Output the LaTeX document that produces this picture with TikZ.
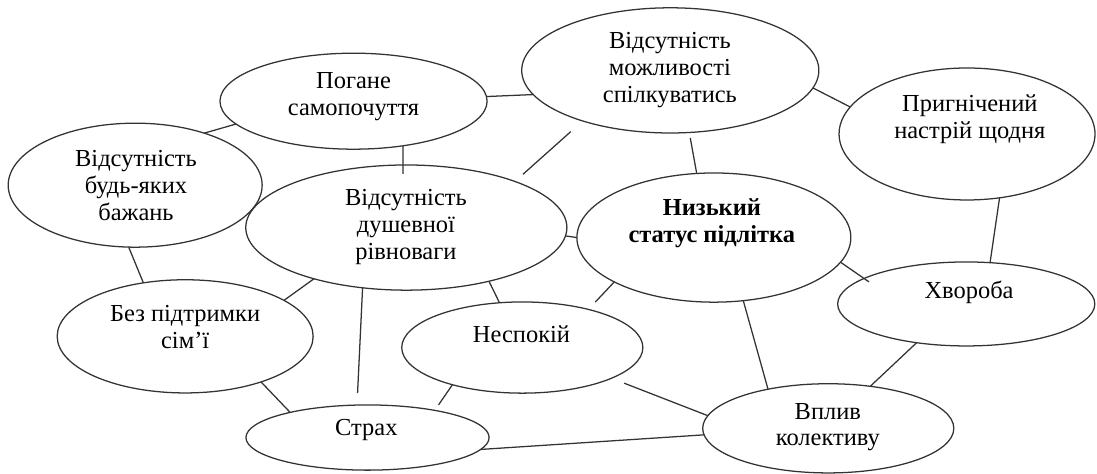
\documentclass[tikz,border=0pt]{standalone}
\usepackage{fontspec}
\setmainfont{Liberation Serif}
\usetikzlibrary{shapes.geometric}

\begin{document}
\begin{tikzpicture}[
  font=\fontsize{17.4}{19.2}\selectfont,
  every node/.style={inner sep=0pt, outer sep=0pt},
  oval/.style={ellipse, draw=LineGray, line width=0.9pt},
  txt/.style={align=center, text=black},
  link/.style={draw=LineGray, line width=0.9pt},
]

% ── colors ──
\definecolor{LineGray}{HTML}{333333}

\useasboundingbox (0.00,0.00) rectangle (27.43,-11.85);

% ── ellipses ──
\node[oval, minimum width=6.68cm, minimum height=2.40cm] (pohane) at (8.84,-2.53) {};
\node[oval, minimum width=6.35cm, minimum height=3.10cm] (bazhan) at (3.38,-4.63) {};
\node[oval, minimum width=8.03cm, minimum height=3.13cm] (rivnovaha) at (10.16,-5.69) {};
\node[oval, minimum width=7.43cm, minimum height=3.13cm] (spilk) at (16.76,-1.76) {};
\node[oval, minimum width=6.40cm, minimum height=3.30cm] (nastrij) at (24.18,-3.35) {};
\node[oval, minimum width=6.85cm, minimum height=3.23cm] (status) at (17.85,-5.94) {};
\node[oval, minimum width=6.43cm, minimum height=2.10cm] (khvoroba) at (24.16,-7.60) {};
\node[oval, minimum width=6.40cm, minimum height=2.83cm] (simja) at (4.63,-8.41) {};
\node[oval, minimum width=6.03cm, minimum height=2.28cm] (nespokij) at (13.06,-8.69) {};
\node[oval, minimum width=6.08cm, minimum height=1.63cm] (strakh) at (9.19,-10.94) {};
\node[oval, minimum width=6.28cm, minimum height=2.23cm] (vplyv) at (20.71,-10.71) {};

% ── texts ──
\node[txt] (pohane-t) at (8.84,-2.41) {Погане\\самопочуття};
\node[txt] (bazhan-t) at (3.40,-4.63) {Відсутність\\будь-яких\\бажань};
\node[txt] (rivnovaha-t) at (10.15,-5.68) {Відсутність\\душевної\\рівноваги};
\node[txt] (spilk-t) at (16.75,-1.76) {Відсутність\\можливості\\спілкуватись};
\node[txt] (nastrij-t) at (24.25,-2.98) {Пригнічений\\настрій щодня};
\node[txt, font=\fontsize{17.4}{19.2}\selectfont\bfseries] (status-t) at (17.80,-5.59) {Низький\\статус підлітка};
\node[txt] (khvoroba-t) at (24.23,-7.30) {Хвороба};
\node[txt] (simja-t) at (4.63,-8.18) {Без підтримки\\сім’ї};
\node[txt] (nespokij-t) at (13.04,-8.35) {Неспокій};
\node[txt] (strakh-t) at (9.16,-10.75) {Страх};
\node[txt] (vplyv-t) at (20.70,-10.68) {Вплив\\колективу};

% ── links ──
\draw[link] (pohane.2) -- (spilk.190);
\draw[link] (pohane.191) -- (bazhan.37);
\draw[link, shorten >=-0.22cm] (pohane.-42) -- (rivnovaha.93);
\draw[link, shorten <=0.40cm, shorten >=0.27cm] (spilk.210) -- (rivnovaha.23);
\draw[link, shorten <=0.14cm] (spilk.287) -- (status.105);
\draw[link] (spilk.-7) -- (nastrij.167);
\draw[link] (bazhan.264) -- (simja.128);
\draw[link] (rivnovaha.209) -- (simja.20);
\draw[link, shorten >=0.30cm] (rivnovaha.234) -- (strakh.108);
\draw[link] (rivnovaha.-33) -- (nespokij.117);
\draw[link] (rivnovaha.-3) -- (status.180);
\draw[link] (simja.-31) -- (strakh.162);
\draw[link, shorten >=0.17cm] (nespokij.208) -- (strakh.22);
\draw[link] (strakh.-6) -- (vplyv.183);
\draw[link, shorten <=0.34cm] (nespokij.-19) -- (vplyv.174);
\draw[link, shorten <=0.25cm] (nespokij.30) -- (status.204);
\draw[link] (status.-65) -- (vplyv.147);
\draw[link, shorten >=-0.15cm] (status.-11) -- (khvoroba.166);
\draw[link] (nastrij.-63) -- (khvoroba.60);
\draw[link] (khvoroba.218) -- (vplyv.45);

\end{tikzpicture}
\end{document}
